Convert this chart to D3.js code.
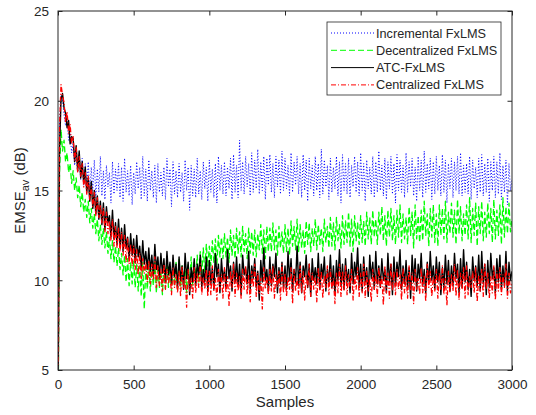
<!DOCTYPE html>
<html>
<head>
<meta charset="utf-8">
<script src="https://cdn.jsdelivr.net/npm/d3@7"></script>
<style>
  body { margin: 0; background: #fff; }
  text { font-family: Arial, "Liberation Sans", sans-serif; fill: #262626; }
</style>
</head>
<body>
<div id="chart"></div>
<script>
// sample spacing of the stored curves (one value every 10 samples, 0..3000)
var sampleStep = 10;

var xTicks = [0, 500, 1000, 1500, 2000, 2500, 3000];
var yTicks = [5, 10, 15, 20, 25];

var seriesNames = ["Incremental FxLMS", "Decentralized FxLMS", "ATC-FxLMS", "Centralized FxLMS"];

var incremental = [
  0.5, 18.8, 20.3, 20.0, 19.2, 18.6, 18.9, 17.8, 18.2, 17.1,
  17.6, 16.4, 17.2, 16.0, 17.0, 15.6, 16.8, 15.3, 16.5, 15.1,
  16.6, 14.8, 16.3, 15.0, 16.7, 14.6, 16.2, 14.9, 16.9, 14.7,
  16.1, 14.5, 16.4, 15.2, 16.0, 14.3, 16.6, 14.8, 16.2, 15.0,
  16.5, 14.6, 16.3, 14.4, 16.8, 14.9, 16.1, 14.7, 16.4, 14.2,
  16.0, 14.8, 16.6, 15.1, 16.3, 14.5, 16.9, 14.7, 16.2, 14.4,
  16.7, 15.0, 16.1, 14.6, 16.4, 14.3, 16.5, 14.9, 16.0, 14.7,
  16.3, 14.5, 16.8, 15.2, 16.2, 14.1, 16.6, 14.8, 16.1, 14.6,
  16.5, 14.9, 16.0, 14.4, 16.7, 15.0, 16.3, 13.9, 16.4, 14.7,
  16.2, 14.6, 16.8, 14.8, 16.1, 14.5, 16.6, 15.1, 16.3, 14.4,
  16.7, 14.9, 16.2, 14.6, 16.5, 14.3, 16.9, 15.0, 16.4, 14.8,
  16.6, 14.7, 16.3, 15.1, 16.8, 14.5, 17.0, 14.9, 16.4, 14.6,
  17.8, 15.0, 16.6, 14.8, 16.9, 15.2, 16.5, 14.7, 17.1, 14.9,
  16.7, 15.1, 17.3, 14.8, 16.6, 15.0, 16.9, 14.5, 16.8, 15.3,
  17.0, 14.9, 16.5, 14.6, 16.9, 15.2, 16.7, 14.8, 17.2, 15.0,
  16.8, 15.1, 16.4, 14.7, 17.1, 14.9, 16.6, 15.3, 16.9, 14.8,
  16.5, 14.6, 17.0, 15.0, 16.7, 14.4, 16.8, 15.1, 16.4, 14.7,
  16.9, 15.0, 16.5, 14.6, 17.3, 14.8, 16.7, 15.2, 16.4, 14.5,
  16.8, 14.9, 16.3, 15.1, 16.9, 14.7, 16.6, 14.3, 17.0, 15.0,
  16.5, 14.8, 16.8, 14.6, 16.4, 15.2, 16.9, 14.9, 16.6, 14.7,
  17.1, 15.0, 16.5, 14.4, 16.7, 15.1, 16.3, 14.8, 16.9, 14.6,
  16.6, 14.9, 17.2, 15.0, 16.4, 14.7, 16.8, 14.5, 16.6, 15.1,
  16.9, 14.8, 16.5, 14.3, 17.0, 15.0, 16.7, 14.9, 16.4, 14.6,
  17.1, 14.9, 16.6, 15.2, 16.8, 14.7, 16.3, 14.4, 16.9, 15.0,
  16.7, 14.6, 17.2, 14.9, 16.5, 15.1, 16.8, 14.5, 16.6, 14.8,
  16.9, 15.0, 16.4, 14.7, 17.0, 14.9, 16.7, 14.3, 16.5, 15.1,
  16.8, 14.6, 16.6, 15.0, 16.9, 14.8, 17.1, 14.7, 16.4, 14.9,
  16.5, 14.8, 16.9, 14.5, 16.7, 15.1, 16.3, 14.6, 16.8, 14.9,
  17.0, 14.7, 16.5, 14.9, 16.8, 14.4, 16.6, 15.0, 16.9, 14.6,
  16.6, 14.8, 17.1, 14.5, 16.4, 14.9, 16.7, 14.2, 16.5, 15.0,
  15.6
];

var decentralized = [
  0.5, 16.0, 18.4, 17.2, 17.8, 16.6, 17.1, 16.0, 16.5, 15.4,
  16.1, 15.0, 15.7, 14.6, 15.3, 14.1, 14.9, 13.8, 14.5, 13.5,
  14.4, 13.2, 14.0, 12.9, 13.7, 12.6, 13.4, 12.2, 13.1, 12.0,
  12.9, 11.8, 12.7, 11.5, 12.4, 11.2, 12.2, 11.0, 11.9, 10.8,
  11.8, 10.6, 11.5, 10.3, 11.4, 9.9, 11.2, 9.7, 11.0, 9.8,
  11.1, 9.6, 10.9, 9.4, 10.8, 9.1, 11.0, 8.4, 10.7, 9.5,
  10.9, 9.4, 10.6, 9.7, 11.0, 9.3, 10.8, 9.6, 10.5, 9.2,
  10.8, 9.5, 11.1, 9.6, 10.7, 9.4, 10.9, 9.7, 11.0, 9.5,
  11.2, 9.6, 10.8, 9.8, 11.1, 9.3, 10.9, 9.9, 11.3, 9.7,
  11.0, 10.0, 11.4, 9.9, 11.6, 10.3, 11.8, 10.5, 12.0, 10.8,
  11.9, 10.8, 12.2, 11.0, 12.3, 10.9, 12.5, 11.3, 12.4, 11.2,
  12.6, 11.3, 12.4, 11.0, 12.8, 11.4, 12.5, 11.2, 12.9, 11.5,
  12.7, 11.3, 13.0, 11.6, 12.6, 11.2, 12.9, 11.5, 12.7, 11.4,
  12.8, 11.3, 12.6, 11.7, 13.1, 11.5, 12.8, 11.2, 13.0, 11.6,
  12.9, 11.6, 13.2, 11.7, 12.8, 11.4, 13.0, 11.8, 12.7, 11.5,
  13.1, 11.6, 12.9, 11.4, 13.3, 11.9, 13.0, 11.7, 13.4, 11.6,
  13.1, 11.8, 12.8, 11.5, 13.3, 12.0, 13.2, 11.6, 12.9, 11.9,
  13.4, 11.7, 13.1, 12.0, 12.9, 11.6, 13.4, 12.1, 13.0, 11.8,
  13.5, 11.9, 13.2, 11.7, 13.5, 12.2, 13.1, 11.8, 13.6, 12.0,
  13.3, 12.1, 13.8, 11.9, 13.4, 11.6, 13.6, 12.2, 13.2, 12.0,
  13.6, 12.1, 13.3, 11.9, 13.8, 12.3, 13.5, 12.0, 13.9, 12.4,
  13.4, 12.0, 13.8, 12.5, 14.1, 12.2, 13.6, 11.9, 13.9, 12.4,
  14.0, 12.2, 13.6, 12.0, 13.9, 12.4, 14.2, 12.1, 13.7, 12.3,
  13.5, 12.0, 14.1, 12.5, 13.8, 11.8, 14.2, 12.3, 13.6, 12.1,
  13.9, 12.2, 14.4, 12.5, 13.7, 11.9, 14.0, 12.4, 14.2, 12.1,
  13.7, 11.9, 14.2, 12.5, 14.0, 12.3, 14.4, 12.1, 13.8, 12.6,
  14.3, 12.4, 13.9, 12.0, 14.5, 12.6, 14.1, 12.2, 13.7, 12.5,
  14.2, 12.3, 14.6, 12.1, 14.0, 12.5, 14.3, 11.9, 14.1, 12.6,
  14.4, 12.2, 13.8, 12.4, 14.3, 12.6, 14.0, 12.1, 14.5, 12.3,
  13.9, 12.5, 14.2, 12.0, 14.6, 12.4, 14.1, 12.6, 14.3, 12.7,
  13.4
];

var atc = [
  2.0, 17.2, 20.1, 20.4, 19.6, 19.3, 18.5, 18.9, 17.6, 18.0,
  17.9, 16.6, 17.5, 16.1, 17.2, 15.7, 16.6, 15.4, 16.3, 14.9,
  15.7, 14.4, 15.5, 14.0, 15.0, 13.7, 14.7, 13.4, 14.4, 13.1,
  14.3, 12.8, 14.1, 13.2, 13.6, 12.4, 13.9, 12.3, 13.2, 12.0,
  13.4, 11.9, 12.9, 11.6, 13.1, 11.8, 12.4, 11.2, 12.6, 11.4,
  12.3, 11.0, 12.5, 11.3, 11.9, 10.7, 12.2, 10.9, 11.6, 10.6,
  11.8, 10.5, 11.4, 10.2, 12.0, 10.6, 11.3, 10.1, 11.5, 10.4,
  11.2, 9.9, 11.6, 10.3, 11.0, 9.8, 11.4, 10.2, 10.9, 9.6,
  11.3, 10.0, 10.8, 9.5, 11.5, 10.1, 11.0, 9.2, 10.7, 9.9,
  11.2, 9.7, 10.9, 10.3, 11.4, 9.6, 10.6, 9.9, 11.3, 9.4,
  11.1, 9.8, 10.7, 9.5, 11.5, 10.2, 10.9, 9.3, 11.2, 10.0,
  10.6, 9.6, 11.7, 10.1, 10.8, 9.4, 11.0, 9.9, 11.3, 9.7,
  10.9, 9.2, 11.4, 10.3, 10.7, 9.8, 11.6, 9.5, 10.8, 10.1,
  11.2, 9.6, 10.5, 8.9, 11.1, 9.9, 11.8, 10.0, 10.6, 9.4,
  11.3, 9.7, 10.9, 10.2, 11.5, 9.3, 10.7, 9.8, 11.0, 9.6,
  10.8, 9.5, 11.6, 10.0, 11.2, 9.4, 10.6, 9.9, 11.9, 9.7,
  11.0, 9.3, 10.8, 10.2, 11.4, 9.6, 10.9, 9.1, 11.2, 10.0,
  10.7, 9.8, 11.5, 9.5, 10.9, 10.1, 11.3, 9.4, 10.6, 9.9,
  11.4, 9.6, 10.8, 9.2, 11.1, 10.0, 11.7, 9.7, 10.9, 9.5,
  11.2, 9.9, 10.6, 9.3, 11.5, 9.8, 11.0, 10.2, 11.8, 9.6,
  10.9, 9.4, 11.3, 9.9, 10.7, 9.1, 11.4, 10.1, 11.0, 9.5,
  11.6, 9.8, 10.8, 9.6, 11.2, 10.0, 10.6, 9.3, 11.5, 9.9,
  10.9, 9.2, 11.3, 9.7, 11.0, 10.2, 11.7, 9.5, 10.8, 9.8,
  11.1, 9.6, 10.7, 9.0, 11.4, 9.9, 11.2, 9.4, 10.9, 10.1,
  11.5, 9.7, 10.6, 9.3, 11.0, 9.8, 11.6, 10.0, 10.8, 9.5,
  11.3, 9.9, 11.0, 9.2, 10.7, 9.6, 11.4, 9.8, 11.1, 9.4,
  10.8, 9.7, 11.5, 10.1, 10.9, 9.3, 11.2, 9.6, 11.7, 9.9,
  11.0, 9.5, 10.6, 9.1, 11.3, 10.0, 10.8, 9.7, 11.4, 9.4,
  11.6, 9.8, 10.9, 9.2, 11.1, 9.6, 11.5, 10.1, 10.7, 9.3,
  11.2, 9.9, 11.4, 9.5, 10.8, 9.7, 11.6, 9.4, 11.0, 10.0,
  10.5
];

var centralized = [
  1.0, 18.5, 20.9, 20.3, 19.9, 18.8, 19.4, 18.2, 18.7, 17.6,
  18.0, 16.7, 17.4, 16.0, 16.9, 15.8, 16.5, 15.2, 16.0, 14.8,
  15.8, 14.5, 15.2, 14.1, 14.9, 13.6, 14.6, 13.5, 14.2, 13.2,
  14.0, 12.7, 13.8, 12.6, 13.3, 12.2, 13.4, 11.9, 13.0, 11.8,
  12.9, 11.6, 12.7, 11.4, 12.5, 11.0, 12.3, 10.9, 12.0, 10.8,
  11.9, 10.6, 11.7, 10.3, 11.5, 10.1, 11.2, 10.4, 11.0, 9.9,
  11.1, 9.8, 10.9, 10.0, 11.3, 9.6, 10.8, 9.7, 10.6, 9.4,
  10.9, 9.5, 10.6, 9.8, 10.4, 9.2, 10.7, 9.6, 10.3, 9.3,
  10.5, 9.1, 10.8, 9.5, 10.2, 8.5, 10.6, 9.4, 10.1, 9.0,
  10.7, 9.3, 10.4, 9.6, 10.9, 9.2, 10.2, 9.5, 10.6, 9.1,
  10.5, 9.2, 10.8, 9.4, 10.1, 8.9, 10.6, 9.5, 10.3, 9.0,
  10.7, 9.3, 10.2, 8.6, 10.5, 9.6, 10.9, 9.1, 10.4, 9.4,
  10.2, 9.0, 10.6, 9.5, 10.8, 9.2, 10.3, 8.8, 10.5, 9.6,
  10.9, 9.1, 10.4, 9.3, 10.1, 8.4, 10.7, 9.5, 10.2, 9.2,
  10.6, 9.4, 10.8, 9.0, 10.3, 9.6, 10.5, 8.9, 10.9, 9.3,
  10.4, 9.1, 10.2, 9.5, 10.7, 8.7, 10.6, 9.4, 10.1, 9.2,
  10.8, 9.3, 10.5, 8.9, 10.3, 9.6, 10.9, 9.1, 10.4, 9.5,
  10.2, 8.8, 10.7, 9.4, 10.5, 9.0, 10.3, 9.6, 10.8, 9.2,
  10.6, 9.5, 10.1, 8.7, 10.4, 9.3, 10.9, 9.1, 10.5, 9.4,
  10.8, 9.2, 10.3, 9.6, 10.6, 8.9, 10.2, 9.5, 10.7, 9.1,
  10.4, 9.3, 10.9, 9.0, 10.5, 9.4, 10.1, 8.8, 10.6, 9.5,
  10.3, 9.1, 10.7, 9.6, 10.2, 8.6, 10.8, 9.3, 10.4, 9.0,
  10.9, 9.4, 10.5, 9.2, 10.6, 9.5, 10.3, 8.9, 10.7, 9.3,
  10.2, 9.0, 10.8, 9.4, 10.4, 8.7, 10.6, 9.5, 10.1, 9.2,
  10.7, 9.3, 10.3, 8.8, 10.9, 9.6, 10.5, 9.1, 10.2, 9.4,
  10.6, 9.0, 10.4, 9.5, 10.8, 9.2, 10.1, 8.6, 10.5, 9.3,
  10.3, 9.4, 10.9, 9.1, 10.6, 8.9, 10.4, 9.5, 10.7, 9.0,
  10.8, 9.2, 10.2, 9.6, 10.5, 9.3, 10.7, 8.8, 10.3, 9.4,
  10.6, 9.1, 10.9, 9.5, 10.4, 9.0, 10.2, 9.3, 10.8, 8.9,
  10.5, 9.4, 10.7, 9.2, 10.3, 9.6, 10.9, 9.0, 10.4, 9.3,
  9.8
];

var width = 536, height = 415;
var margin = {top: 11, right: 24, bottom: 45, left: 58};
var plotW = width - margin.left - margin.right;
var plotH = height - margin.top - margin.bottom;
var axisColor = "#262626";

var series = [
  {name: seriesNames[0], values: incremental,   color: "#0000ff", dash: "1,2",     w: 1},
  {name: seriesNames[1], values: decentralized, color: "#00ff00", dash: "6,3",     w: 1.3},
  {name: seriesNames[2], values: atc,           color: "#000000", dash: null,      w: 1.4},
  {name: seriesNames[3], values: centralized,   color: "#ff0000", dash: "5,2,1,2", w: 1.3}
];

var svg = d3.select("#chart").append("svg")
    .attr("width", width)
    .attr("height", height);

svg.append("rect").attr("width", width).attr("height", height).attr("fill", "#fff");

var g = svg.append("g")
    .attr("transform", "translate(" + margin.left + "," + margin.top + ")");

var x = d3.scaleLinear().domain([0, 3000]).range([0, plotW]);
var y = d3.scaleLinear().domain([5, 25]).range([plotH, 0]);

g.append("clipPath").attr("id", "clip")
    .append("rect").attr("width", plotW).attr("height", plotH);

var line = d3.line()
    .x(function(d, i) { return x(i * sampleStep); })
    .y(function(d) { return y(d); });

// the curves, blue first so red ends up on top
g.append("g").attr("clip-path", "url(#clip)")
    .selectAll("path")
    .data(series)
    .enter().append("path")
    .attr("fill", "none")
    .attr("stroke", function(d) { return d.color; })
    .attr("stroke-width", function(d) { return d.w; })
    .attr("stroke-dasharray", function(d) { return d.dash; })
    .attr("stroke-linejoin", "round")
    .attr("d", function(d) { return line(d.values); });

// axes, MATLAB style: ticks inside on all four sides
var tickLen = 4.5;
var xAxis = d3.axisBottom(x).tickValues(xTicks).tickFormat(d3.format("d"))
    .tickSizeInner(-tickLen).tickSizeOuter(0).tickPadding(9);
var yAxis = d3.axisLeft(y).tickValues(yTicks).tickFormat(d3.format("d"))
    .tickSizeInner(-tickLen).tickSizeOuter(0).tickPadding(9);

var gx = g.append("g").attr("transform", "translate(0," + plotH + ")").call(xAxis);
var gy = g.append("g").call(yAxis);
g.append("g").call(d3.axisTop(x).tickValues(xTicks).tickSizeInner(-tickLen).tickSizeOuter(0).tickFormat(""));
g.append("g").attr("transform", "translate(" + plotW + ",0)")
    .call(d3.axisRight(y).tickValues(yTicks).tickSizeInner(-tickLen).tickSizeOuter(0).tickFormat(""));

g.selectAll(".domain").remove();
g.selectAll(".tick line").attr("stroke", axisColor);
g.selectAll(".tick text")
    .attr("font-family", "Arial, 'Liberation Sans', sans-serif")
    .attr("font-size", "13.5px")
    .attr("fill", axisColor);
gy.selectAll(".tick text").attr("dy", "0.36em");

g.append("rect")
    .attr("width", plotW).attr("height", plotH)
    .attr("fill", "none").attr("stroke", axisColor).attr("stroke-width", 1);

// axis labels
g.append("text")
    .attr("x", plotW / 2)
    .attr("y", plotH + 37)
    .attr("text-anchor", "middle")
    .style("font-size", "15px")
    .text("Samples");

var yl = g.append("text")
    .attr("text-anchor", "middle")
    .attr("transform", "translate(" + (-33) + "," + (plotH / 2) + ")rotate(-90)")
    .style("font-size", "15px");
yl.append("tspan").text("EMSE");
yl.append("tspan").attr("dy", "4").style("font-size", "11px").text("av");
yl.append("tspan").attr("dy", "-4").text(" (dB)");

// legend
var lx = 327 - margin.left, ly = 22 - margin.top, lw = 174, lh = 73;
var legend = g.append("g").attr("transform", "translate(" + lx + "," + ly + ")");
legend.append("rect")
    .attr("width", lw).attr("height", lh)
    .attr("fill", "#fff").attr("stroke", axisColor).attr("stroke-width", 0.8);

var items = legend.selectAll(".item")
    .data(series)
    .enter().append("g")
    .attr("transform", function(d, i) { return "translate(0," + (11 + i * 17.3) + ")"; });

items.append("line")
    .attr("x1", 4).attr("x2", 47)
    .attr("stroke", function(d) { return d.color; })
    .attr("stroke-width", 1)
    .attr("stroke-dasharray", function(d) { return d.dash; });

items.append("text")
    .attr("x", 49)
    .attr("dy", "0.36em")
    .style("font-size", "12.7px")
    .text(function(d) { return d.name; });
</script>
</body>
</html>
